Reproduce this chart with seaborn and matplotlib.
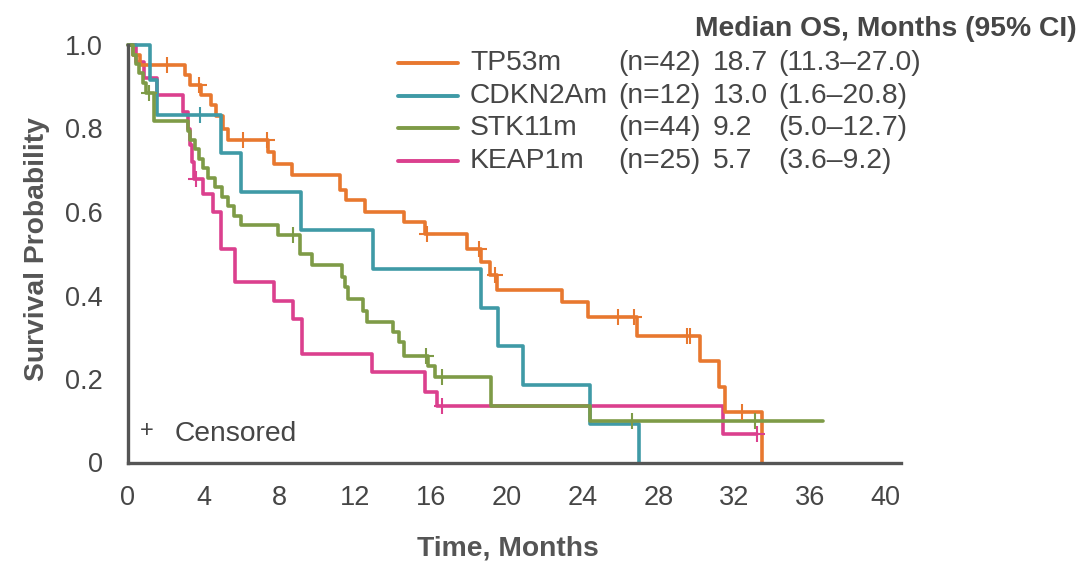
import numpy as np
import pandas as pd
import matplotlib
matplotlib.use("Agg")
import matplotlib.pyplot as plt
import seaborn as sns
from matplotlib.lines import Line2D

# --- dados (Kaplan-Meier, OS) ---
grupos = ["TP53m", "CDKN2Am", "STK11m", "KEAP1m"]
n_pacientes = [42, 12, 44, 25]
mediana_os = ["18.7", "13.0", "9.2", "5.7"]
ic_95 = ["(11.3\u201327.0)", "(1.6\u201320.8)", "(5.0\u201312.7)", "(3.6\u20139.2)"]
cores = ["#E8782F", "#3F9AA6", "#7E9B47", "#DB408E"]

tp53_tempo = [0, 0.3, 0.65, 3.0, 3.3, 3.85, 4.4, 4.65, 5.05, 5.3, 7.4, 7.7, 8.65,
              11.2, 11.5, 12.5, 14.6, 15.7, 17.9, 18.65, 19.1, 19.5, 22.9, 24.3,
              26.9, 30.2, 31.2, 31.5, 33.5]
tp53_surv = [1.0, 0.976, 0.952, 0.929, 0.905, 0.881, 0.857, 0.829, 0.80, 0.772,
             0.744, 0.716, 0.688, 0.652, 0.628, 0.60, 0.576, 0.548, 0.512, 0.48,
             0.448, 0.412, 0.384, 0.348, 0.304, 0.244, 0.18, 0.12, 0.0]
tp53_cens = [2.06, 3.75, 6.1, 7.33, 15.8, 18.55, 19.4, 25.9, 26.7, 29.5, 29.7, 32.4]

cdkn_tempo = [0, 1.2, 1.55, 4.95, 6.0, 9.15, 12.95, 18.65, 19.55, 20.85, 24.4, 27.0]
cdkn_surv = [1.0, 0.917, 0.833, 0.741, 0.648, 0.556, 0.463, 0.37, 0.278, 0.185, 0.093, 0.0]
cdkn_cens = [3.8]

stk_tempo = [0, 0.3, 0.45, 0.6, 0.8, 0.95, 1.4, 3.2, 3.3, 3.55, 3.75, 4.0, 4.25,
             4.6, 5.0, 5.3, 5.6, 6.0, 7.95, 9.1, 9.75, 11.3, 11.45, 11.65, 12.4,
             12.65, 14.0, 14.3, 14.6, 15.85, 16.2, 19.2, 24.4, 36.7]
stk_surv = [1.0, 0.977, 0.955, 0.932, 0.909, 0.886, 0.818, 0.795, 0.773, 0.75,
            0.727, 0.705, 0.682, 0.659, 0.636, 0.614, 0.591, 0.568, 0.544, 0.50,
            0.472, 0.444, 0.42, 0.392, 0.364, 0.336, 0.312, 0.288, 0.256, 0.232,
            0.204, 0.136, 0.10, 0.10]
stk_cens = [1.15, 8.74, 15.75, 16.6, 26.6, 33.1]

keap_tempo = [0, 0.45, 0.85, 1.55, 2.9, 3.2, 3.3, 3.4, 3.5, 4.0, 4.5, 4.9, 5.65,
              7.7, 8.7, 9.2, 12.9, 15.7, 16.3, 31.4, 33.2]
keap_surv = [1.0, 0.96, 0.92, 0.88, 0.84, 0.80, 0.76, 0.72, 0.68, 0.644, 0.60,
             0.512, 0.432, 0.388, 0.344, 0.26, 0.216, 0.168, 0.136, 0.068, 0.068]
keap_cens = [3.6, 16.6, 33.2]

curvas = [
    (tp53_tempo, tp53_surv, tp53_cens),
    (cdkn_tempo, cdkn_surv, cdkn_cens),
    (stk_tempo, stk_surv, stk_cens),
    (keap_tempo, keap_surv, keap_cens),
]
ordem_desenho = [3, 0, 1, 2]  # rosa por baixo, verde por cima

W, H = 1082, 564
COR_EIXO = "#555555"
COR_TEXTO = "#464646"
FONTE_TEXTO = 20.3

sns.set_style("white")
plt.rcParams["font.family"] = ["Liberation Sans", "DejaVu Sans"]

fig = plt.figure(figsize=(W / 100, H / 100), dpi=100)
ax = fig.add_axes([127.7 / W, 1 - 462.5 / H, 773 / W, 417.5 / H])


def nivel_em(tempo, surv, t):
    """Valor da curva em degrau no instante t."""
    i = np.searchsorted(tempo, t, side="right") - 1
    return surv[i]


for i in ordem_desenho:
    tempo, surv, cens = curvas[i]
    df = pd.DataFrame({"tempo": tempo, "surv": surv})
    sns.lineplot(data=df, x="tempo", y="surv", drawstyle="steps-post",
                 estimator=None, sort=False, color=cores[i], lw=2.6, ax=ax,
                 clip_on=False)
    df_c = pd.DataFrame({"tempo": cens,
                         "surv": [nivel_em(tempo, surv, c) for c in cens]})
    sns.scatterplot(data=df_c, x="tempo", y="surv", marker="+", s=120,
                    color=cores[i], linewidth=1.5, ax=ax, clip_on=False, zorder=3)

ax.set_xlim(0, 40.8)
ax.set_ylim(0, 1.0)
ax.set_xticks(np.arange(0, 41, 4))
ax.set_yticks([0, 0.2, 0.4, 0.6, 0.8, 1.0])
ax.set_yticklabels(["0", "0.2", "0.4", "0.6", "0.8", "1.0"])
ax.set_xlabel("")
ax.set_ylabel("")
for lado in ["top", "right"]:
    ax.spines[lado].set_visible(False)
for lado in ["left", "bottom"]:
    ax.spines[lado].set_color(COR_EIXO)
    ax.spines[lado].set_linewidth(2.4)
ax.tick_params(axis="both", length=14, width=2.4, color=COR_EIXO,
               labelsize=19.5, labelcolor=COR_TEXTO)
ax.tick_params(axis="x", pad=2)
ax.tick_params(axis="y", pad=4)

# legenda de censura
ax.text(1.02, 0.076, "+", fontsize=17, color=COR_TEXTO, ha="center", va="center")
ax.text(2.5, 0.068, "Censored", fontsize=FONTE_TEXTO, color=COR_TEXTO,
        ha="left", va="center")

# rótulos dos eixos
fig.text(37 / W, 1 - 249 / H, "Survival Probability", rotation=90,
         fontsize=FONTE_TEXTO, fontweight="bold", color=COR_EIXO,
         ha="center", va="center")
fig.text(508 / W, 1 - 549 / H, "Time, Months", fontsize=FONTE_TEXTO,
         fontweight="bold", color=COR_EIXO, ha="center", va="center")

# legenda em tabela
fig.text(1077 / W, 1 - 29 / H, "Median OS, Months (95% CI)", fontsize=FONTE_TEXTO,
         fontweight="bold", color=COR_TEXTO, ha="right", va="center")
linhas_y = [63.3, 96, 128.3, 160.7]
for i, py in enumerate(linhas_y):
    y = 1 - py / H
    fig.add_artist(Line2D([398 / W, 458 / W], [y, y], color=cores[i], lw=2.8))
    fig.text(470 / W, y, grupos[i], fontsize=FONTE_TEXTO, color=COR_TEXTO, va="center")
    fig.text(618 / W, y, f"(n={n_pacientes[i]})", fontsize=FONTE_TEXTO,
             color=COR_TEXTO, va="center")
    fig.text(713 / W, y, mediana_os[i], fontsize=FONTE_TEXTO, color=COR_TEXTO,
             va="center")
    fig.text(778 / W, y, ic_95[i], fontsize=FONTE_TEXTO, color=COR_TEXTO,
             va="center")

fig.savefig("out.png", dpi=100)
